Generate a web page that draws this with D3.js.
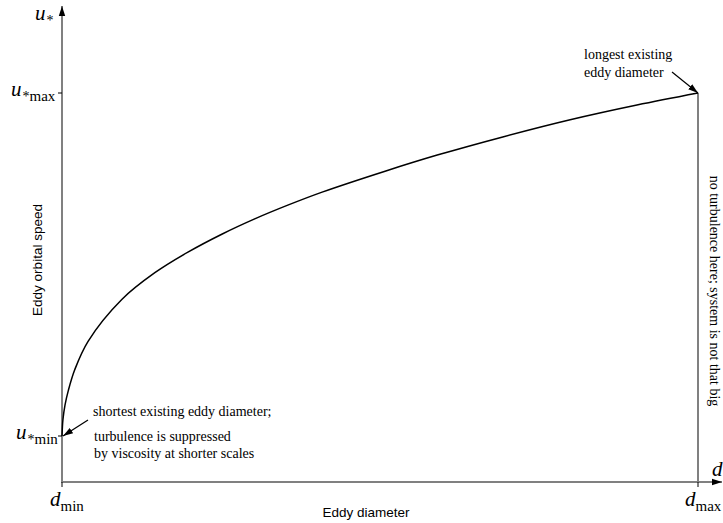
<!DOCTYPE html>
<html>
<head>
<meta charset="utf-8">
<script src="https://cdn.jsdelivr.net/npm/d3@7"></script>
<style>
  body { margin: 0; background: #fff; }
</style>
</head>
<body>
<div id="chart"></div>
<script>
// eddy diameter (0 = d_min, 100 = d_max) and orbital speed (0 = u*min, 100 = u*max)
var diam  = [0, 0.15, 0.47, 1.0, 2.0, 4.1, 9.4, 14.6, 19.8, 25.2, 30.3, 35.5, 40.9, 50.8, 59, 69.3, 79.9, 90.4, 100];
var speed = [0, 4.8, 9, 13.3, 19.3, 27.6, 39.8, 47.6, 53.6, 58.9, 63.3, 67.3, 71.1, 77.2, 81.9, 87.2, 92.2, 96.5, 100];

var W = 723, H = 523;
var axisColor = "#808080";
var SERIF = "'Liberation Serif', 'Times New Roman', Times, serif";
var SANS = "'Liberation Sans', Arial, Helvetica, sans-serif";

var svg = d3.select("#chart").append("svg")
    .attr("width", W)
    .attr("height", H);

var defs = svg.append("defs");
defs.append("marker")
    .attr("id", "arr")
    .attr("viewBox", "0 0 10 10")
    .attr("refX", 10).attr("refY", 5)
    .attr("markerWidth", 10).attr("markerHeight", 10)
    .attr("markerUnits", "userSpaceOnUse")
    .attr("orient", "auto")
  .append("path")
    .attr("d", "M0,1.8 L10,5 L0,8.2 Z")
    .attr("fill", "#000");

var x = d3.scaleLinear().domain([0, 100]).range([62, 698]);
var y = d3.scaleLinear().domain([0, 100]).range([436, 93]);
var x0 = x(0), yBase = 482;

// axes
svg.append("line")
    .attr("x1", x0).attr("y1", yBase).attr("x2", x0).attr("y2", 6)
    .attr("stroke", axisColor).attr("stroke-width", 2)
    .attr("marker-end", "url(#arr)");
svg.append("line")
    .attr("x1", x0 - 1).attr("y1", yBase).attr("x2", 722).attr("y2", yBase)
    .attr("stroke", axisColor).attr("stroke-width", 2)
    .attr("marker-end", "url(#arr)");

// right limit
svg.append("line")
    .attr("x1", x(100)).attr("y1", y(100)).attr("x2", x(100)).attr("y2", yBase)
    .attr("stroke", axisColor).attr("stroke-width", 2);

// ticks
[0, 100].forEach(function(v) {
  svg.append("line")
    .attr("x1", x0 - 4).attr("x2", x0).attr("y1", y(v)).attr("y2", y(v))
    .attr("stroke", "#000").attr("stroke-width", 1);
  svg.append("line")
    .attr("x1", x(v)).attr("x2", x(v)).attr("y1", yBase).attr("y2", yBase + 5)
    .attr("stroke", "#000").attr("stroke-width", 1);
});

// curve
var line = d3.line()
    .x(function(d, i) { return x(diam[i]); })
    .y(function(d, i) { return y(speed[i]); })
    .curve(d3.curveCatmullRom.alpha(0.5));
svg.append("path")
    .datum(diam)
    .attr("d", line)
    .attr("fill", "none")
    .attr("stroke", "#000")
    .attr("stroke-width", 1.5);

// math labels
function mathLabel(px, py, main, sub, star) {
  var t = svg.append("text")
      .attr("font-family", SERIF)
      .attr("x", px).attr("y", py)
      .attr("font-size", 21).attr("fill", "#000");
  t.append("tspan").attr("font-style", "italic").text(main);
  if (star) t.append("tspan").attr("dx", 1).attr("dy", 5).attr("font-size", 14).text("*");
  if (sub) t.append("tspan").attr("dy", star ? 0 : 5).attr("font-size", 15).text(sub);
  return t;
}
mathLabel(35, 20, "u", null, true);
mathLabel(11, 96, "u", "max", true);
mathLabel(16, 439, "u", "min", true);
mathLabel(50, 506, "d", "min", false);
mathLabel(685, 506, "d", "max", false);
mathLabel(712, 476, "d", null, false);

// axis titles
svg.append("text")
    .attr("font-family", SANS)
    .attr("transform", "translate(42," + 260 + ") rotate(-90)")
    .attr("text-anchor", "middle")
    .attr("font-size", 13.5)
    .text("Eddy orbital speed");
svg.append("text")
    .attr("font-family", SANS)
    .attr("x", 366).attr("y", 517)
    .attr("text-anchor", "middle")
    .attr("font-size", 13.5)
    .text("Eddy diameter");

// annotations
var note = svg.append("g").attr("font-family", SERIF).attr("font-size", 14).attr("fill", "#000");
note.append("text").attr("x", 93).attr("y", 416).text("shortest existing eddy diameter;");
note.append("text").attr("x", 94).attr("y", 441).text("turbulence is suppressed");
note.append("text").attr("x", 94).attr("y", 458).text("by viscosity at shorter scales");
note.append("text").attr("x", 584).attr("y", 59).text("longest existing");
note.append("text").attr("x", 584).attr("y", 77).text("eddy diameter");
note.append("text")
    .attr("transform", "translate(710," + 291 + ") rotate(90)")
    .attr("text-anchor", "middle")
    .text("no turbulence here; system is not that big");

svg.append("line")
    .attr("x1", 88).attr("y1", 420).attr("x2", x(0) + 1).attr("y2", y(0))
    .attr("stroke", "#000").attr("stroke-width", 1.2)
    .attr("marker-end", "url(#arr)");
svg.append("line")
    .attr("x1", 672).attr("y1", 72).attr("x2", x(100)).attr("y2", y(100))
    .attr("stroke", "#000").attr("stroke-width", 1.2)
    .attr("marker-end", "url(#arr)");
</script>
</body>
</html>
